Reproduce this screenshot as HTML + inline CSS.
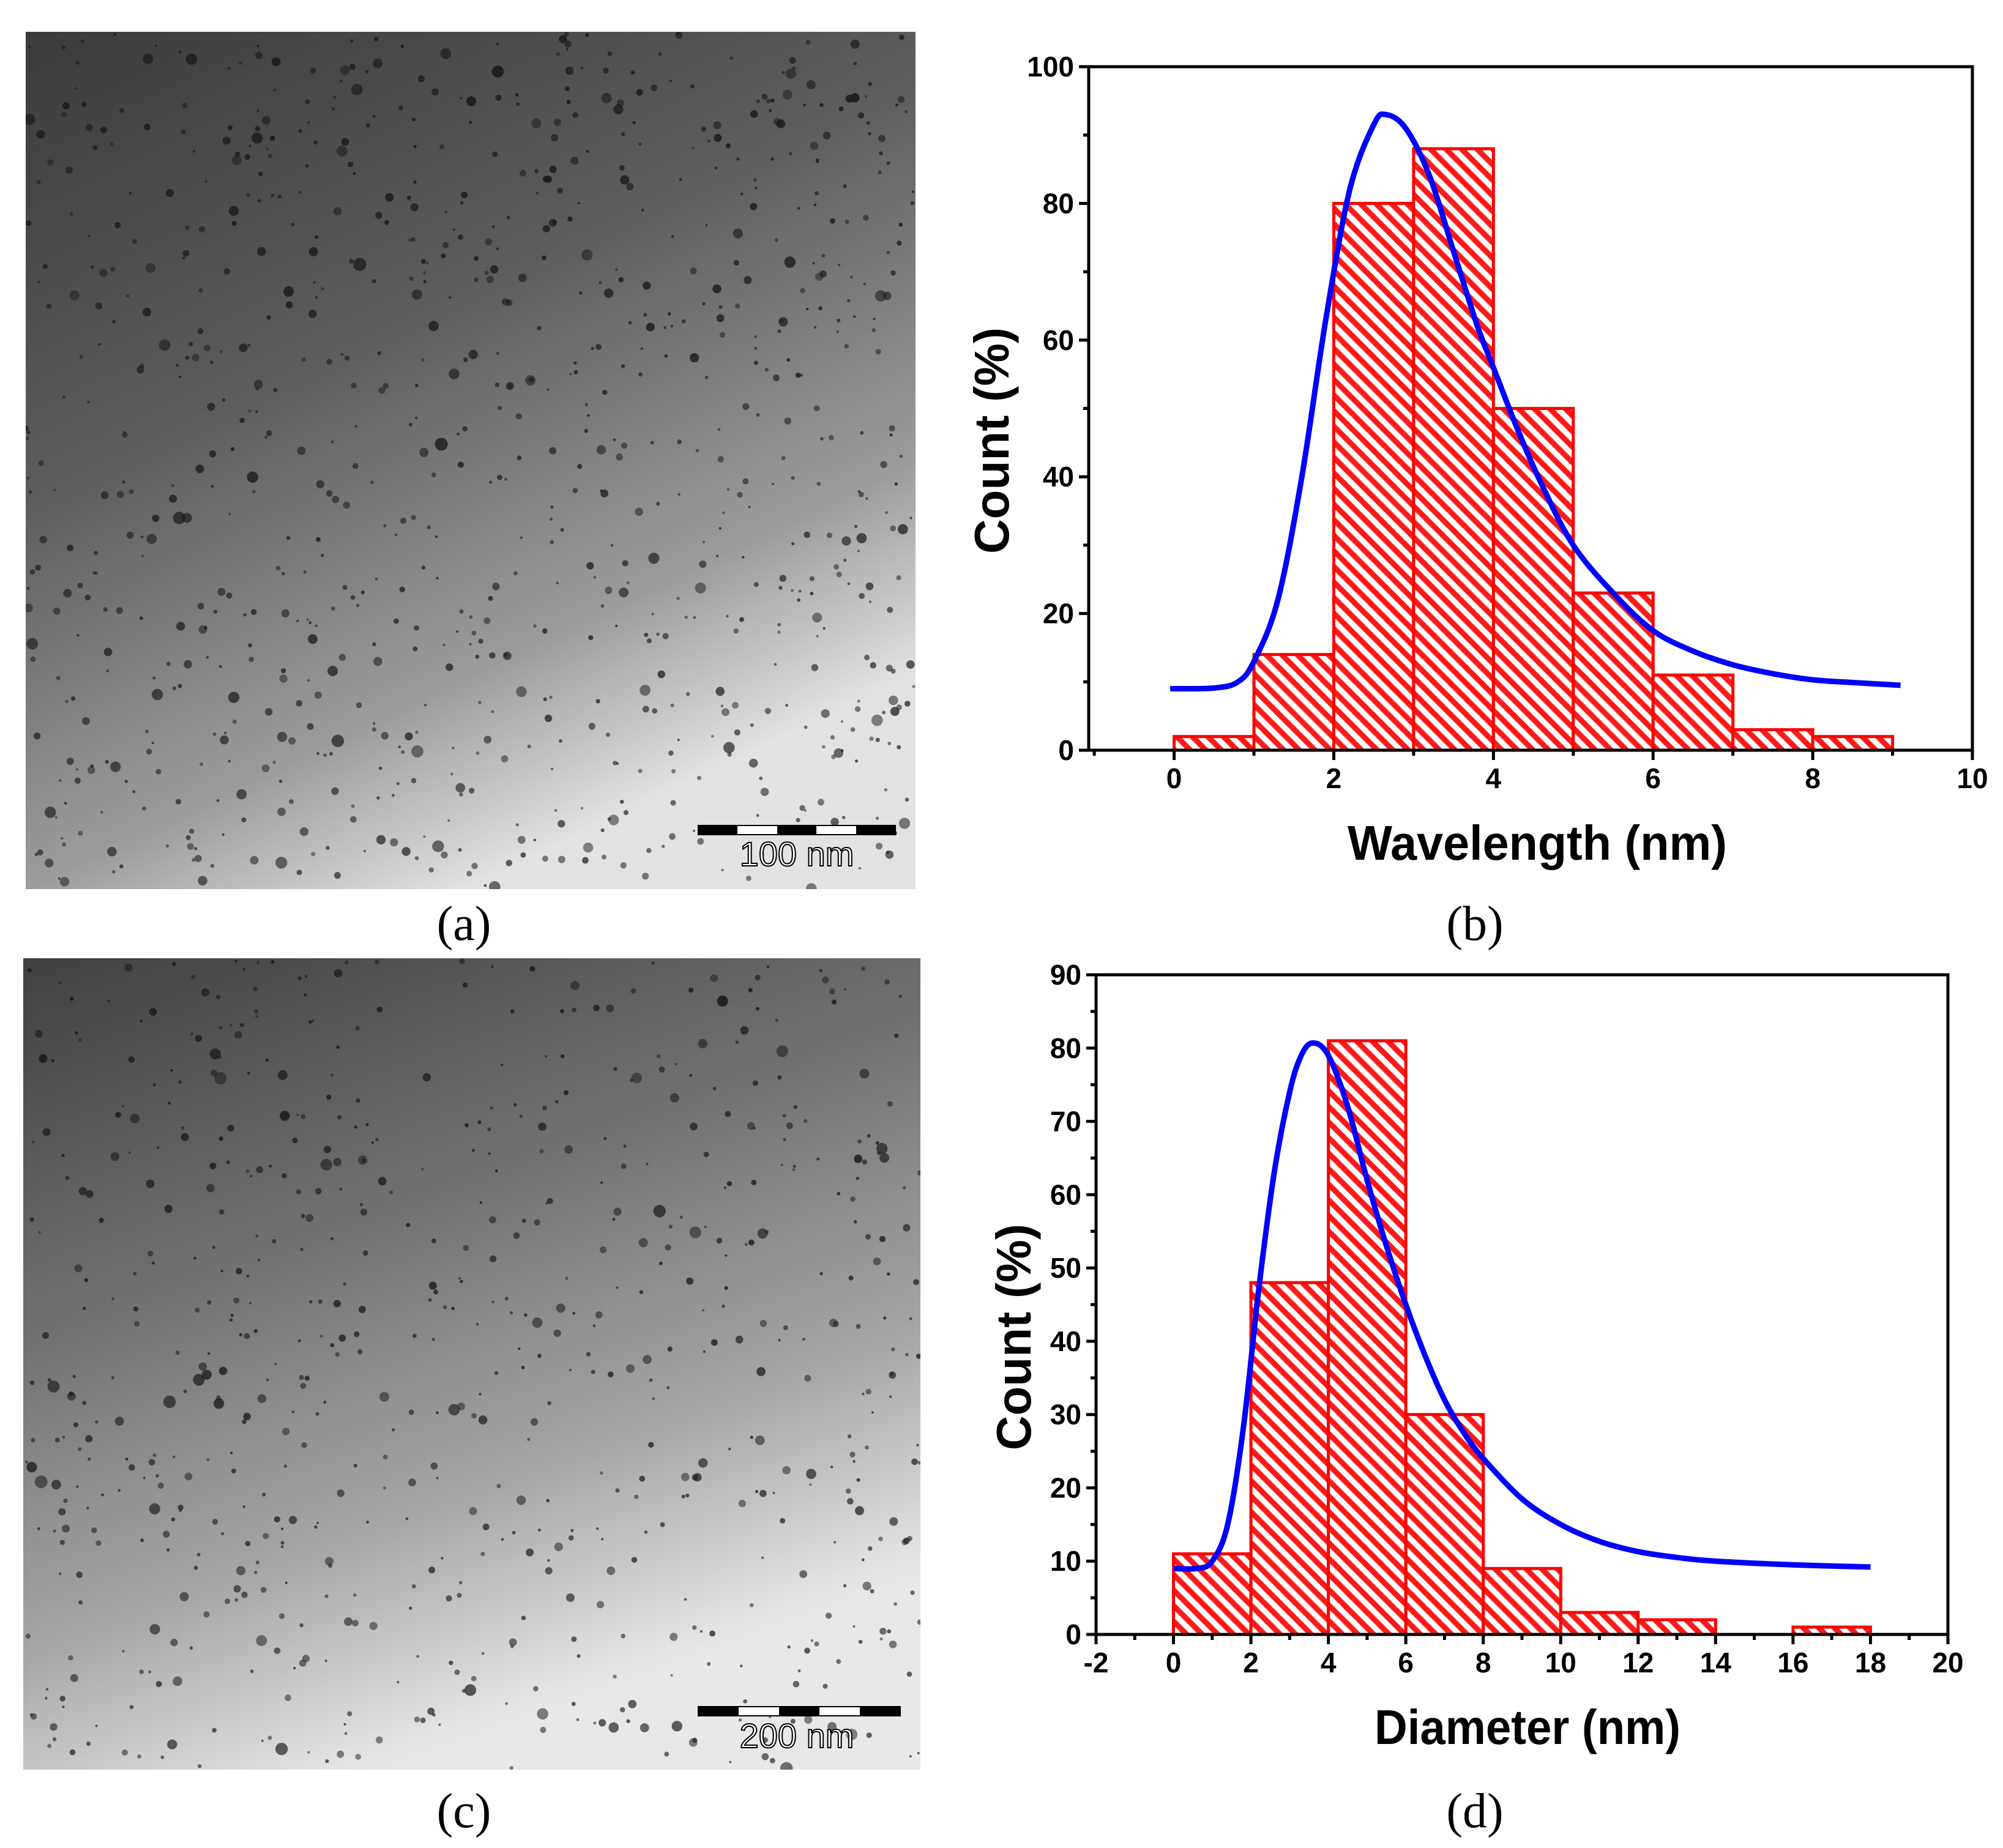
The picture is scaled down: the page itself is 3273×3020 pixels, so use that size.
<!DOCTYPE html>
<html><head><meta charset="utf-8"><style>
html,body{margin:0;padding:0;background:#fff;}
svg{display:block;}
.tick{font-family:"Liberation Sans Narrow","Liberation Sans",sans-serif;font-weight:bold;font-size:46px;fill:#000;}
.title{font-family:"Liberation Sans",sans-serif;font-weight:bold;font-size:80px;fill:#000;}
.panel{font-family:"Liberation Serif",serif;font-size:80px;fill:#000;}
</style></head><body>
<svg id="fig" width="3273" height="3020" viewBox="0 0 3273 3020" xmlns="http://www.w3.org/2000/svg">
<defs>
<linearGradient id="gradA" x1="0" y1="0" x2="0.5" y2="1">
<stop offset="0" stop-color="#3a3a3a"/><stop offset="0.45" stop-color="#5e5e5e"/><stop offset="0.8" stop-color="#9c9c9c"/><stop offset="1" stop-color="#e2e2e2"/>
</linearGradient>
<linearGradient id="gradC" x1="0" y1="0" x2="0.4" y2="1">
<stop offset="0" stop-color="#404040"/><stop offset="0.4" stop-color="#707070"/><stop offset="0.75" stop-color="#a8a8a8"/><stop offset="1" stop-color="#e8e8e8"/>
</linearGradient>
<clipPath id="clipA"><rect x="42" y="52" width="1454" height="1401"/></clipPath>
<clipPath id="clipC"><rect x="38" y="1566" width="1466" height="1326"/></clipPath>
<pattern id="hatch" patternUnits="userSpaceOnUse" width="18" height="18" patternTransform="rotate(-45)">
<rect width="18" height="18" fill="#fff"/><rect x="0" y="0" width="9" height="18" fill="#ff1a1a"/>
</pattern>
</defs>
<g id="imgA" clip-path="url(#clipA)">
<rect x="42" y="52" width="1454" height="1401" fill="url(#gradA)"/>
</g>
<g id="imgC" clip-path="url(#clipC)">
<rect x="38" y="1566" width="1466" height="1326" fill="url(#gradC)"/>
</g>
<g>
<rect x="1141" y="1349" width="322" height="15" fill="#fff" stroke="#000" stroke-width="2"/>
<rect x="1141" y="1349" width="64" height="15" fill="#000"/><rect x="1270" y="1349" width="64" height="15" fill="#000"/><rect x="1399" y="1349" width="64" height="15" fill="#000"/>
<text x="1302" y="1415" text-anchor="middle" font-family="Liberation Sans Narrow,Liberation Sans,sans-serif" font-size="56" fill="#fff" stroke="#000" stroke-width="2">100 nm</text>
</g>
<g>
<rect x="1141" y="2789" width="330" height="15" fill="#fff" stroke="#000" stroke-width="2"/>
<rect x="1141" y="2789" width="66" height="15" fill="#000"/><rect x="1273" y="2789" width="66" height="15" fill="#000"/><rect x="1405" y="2789" width="66" height="15" fill="#000"/>
<text x="1302" y="2856" text-anchor="middle" font-family="Liberation Sans Narrow,Liberation Sans,sans-serif" font-size="56" fill="#fff" stroke="#000" stroke-width="2">200 nm</text>
</g>
<text class="panel" x="758" y="1536" text-anchor="middle">(a)</text>
<text class="panel" x="2410" y="1536" text-anchor="middle">(b)</text>
<text class="panel" x="758" y="2986" text-anchor="middle">(c)</text>
<text class="panel" x="2410" y="2986" text-anchor="middle">(d)</text>
<g id="chartB"></g>
<g id="chartD"></g>
</svg>
<script>
// Chart (b) data
const bBinStarts = [0,1,2,3,4,5,6,7,8];
const bBinWidth = 1;
const bCounts = [2,14,80,88,50,23,11,3,2];
const bFitX = [-0.05,0.5,0.8,1,1.3,1.6,1.9,2.2,2.5,2.65,2.9,3.2,3.5,3.8,4,4.3,4.6,5,5.5,6,6.5,7,7.5,8,8.5,9.1];
const bFitY = [9,9.1,10,13,22,40,63,82,91.5,93,91,84,73,62,56,47,39,30,23,17.5,14.5,12.5,11.2,10.3,9.9,9.5];
const bXTicks = [0,2,4,6,8,10];
const bYTicks = [0,20,40,60,80,100];
// Chart (d) data
const dBinStarts = [0,2,4,6,8,10,12,14,16];
const dBinWidth = 2;
const dCounts = [11,48,81,30,9,3,2,0,1];
const dFitX = [0,0.6,1,1.4,1.8,2.2,2.6,3,3.3,3.6,4,4.5,5,5.5,6,6.5,7,7.5,8,9,10,11,12,13,14,16,18];
const dFitY = [9,9,10,15,28,47,63,74,79,80.7,79,72,62,53,45,38,32,27.5,24,18.5,15,12.7,11.3,10.5,10,9.5,9.2];
const dXTicks = [-2,0,2,4,6,8,10,12,14,16,18,20];
const dYTicks = [0,10,20,30,40,50,60,70,80,90];

const NS='http://www.w3.org/2000/svg';
function mk(tag,attrs,parent){const e=document.createElementNS(NS,tag);for(const k in attrs)e.setAttribute(k,attrs[k]);parent.appendChild(e);return e;}
function smooth(pts){let d='M'+pts[0][0].toFixed(1)+','+pts[0][1].toFixed(1);
  for(let i=0;i<pts.length-1;i++){const p0=pts[Math.max(0,i-1)],p1=pts[i],p2=pts[i+1],p3=pts[Math.min(pts.length-1,i+2)];
    const c1x=p1[0]+(p2[0]-p0[0])/6,c1y=p1[1]+(p2[1]-p0[1])/6,c2x=p2[0]-(p3[0]-p1[0])/6,c2y=p2[1]-(p3[1]-p1[1])/6;
    d+='C'+c1x.toFixed(1)+','+c1y.toFixed(1)+' '+c2x.toFixed(1)+','+c2y.toFixed(1)+' '+p2[0].toFixed(1)+','+p2[1].toFixed(1);}
  return d;}

function drawChart(g,cfg){
  const sx=v=>cfg.L+(v-cfg.x0)/(cfg.x1-cfg.x0)*(cfg.R-cfg.L);
  const sy=v=>cfg.B-(v-cfg.y0)/(cfg.y1-cfg.y0)*(cfg.B-cfg.T);
  cfg.starts.forEach((s,i)=>{
    if(cfg.counts[i]<=0)return;
    const r=mk('rect',{x:sx(s),y:sy(cfg.counts[i]),width:sx(s+cfg.w)-sx(s),height:sy(0)-sy(cfg.counts[i]),fill:'url(#hatch)',stroke:'#ff0000','stroke-width':5},g);
    
    
  });
  const pts=cfg.fx.map((x,i)=>[sx(x),sy(cfg.fy[i])]);
  const p=mk('path',{d:smooth(pts),fill:'none',stroke:'#0000ff','stroke-width':9,'stroke-linejoin':'round'},g);
  
  
  const fr=mk('rect',{x:cfg.L,y:cfg.T,width:cfg.R-cfg.L,height:cfg.B-cfg.T,fill:'none',stroke:'#000','stroke-width':5},g);
  
  
  cfg.xt.forEach((v,i)=>{
    mk('line',{x1:sx(v),x2:sx(v),y1:cfg.B,y2:cfg.B+16,stroke:'#000','stroke-width':5},g);
    if(i<cfg.xt.length-1){const m=(v+cfg.xt[i+1])/2;mk('line',{x1:sx(m),x2:sx(m),y1:cfg.B,y2:cfg.B+9,stroke:'#000','stroke-width':5},g);}
    const t=mk('text',{x:sx(v),y:cfg.B+62,'text-anchor':'middle',class:'tick'},g);t.textContent=v;
    
    
  });
  if(cfg.x0<cfg.xt[0]){const m=cfg.xt[0]-(cfg.xt[1]-cfg.xt[0])/2;if(m>cfg.x0)mk('line',{x1:sx(m),x2:sx(m),y1:cfg.B,y2:cfg.B+9,stroke:'#000','stroke-width':5},g);}
  cfg.yt.forEach((v,i)=>{
    mk('line',{x1:cfg.L-16,x2:cfg.L,y1:sy(v),y2:sy(v),stroke:'#000','stroke-width':5},g);
    if(i<cfg.yt.length-1){const m=(v+cfg.yt[i+1])/2;mk('line',{x1:cfg.L-9,x2:cfg.L,y1:sy(m),y2:sy(m),stroke:'#000','stroke-width':5},g);}
    const t=mk('text',{x:cfg.L-24,y:sy(v)+16,'text-anchor':'end',class:'tick'},g);t.textContent=v;
    
    
  });
  const xt=mk('text',{x:cfg.xtX,y:cfg.B+179,'text-anchor':'middle',class:'title',textLength:cfg.xtLen,lengthAdjust:'spacingAndGlyphs'},g);xt.textContent=cfg.xTitle;
  
  
  const yt=mk('text',{x:0,y:0,'text-anchor':'middle',class:'title',transform:'translate('+cfg.ytX+','+cfg.ytY+') rotate(-90)',textLength:370,lengthAdjust:'spacingAndGlyphs'},g);yt.textContent='Count (%)';
  
  
}
drawChart(document.getElementById('chartB'),{L:1779,R:3223,T:109,B:1226,x0:-1.07,x1:10,y0:0,y1:100,starts:bBinStarts,w:bBinWidth,counts:bCounts,fx:bFitX,fy:bFitY,xt:bXTicks,yt:bYTicks,xTitle:'Wavelength (nm)',xtX:2512,xtLen:620,ytX:1648,ytY:720});
drawChart(document.getElementById('chartD'),{L:1791,R:3183,T:1593,B:2671,x0:-2,x1:20,y0:0,y1:90,starts:dBinStarts,w:dBinWidth,counts:dCounts,fx:dFitX,fy:dFitY,xt:dXTicks,yt:dYTicks,xTitle:'Diameter (nm)',xtX:2496,xtLen:500,ytX:1684,ytY:2185});

// decorative nanoparticle speckles on TEM images (not chart data)
let seed=12345;function rnd(){seed=(seed*1103515245+12345)%2147483648;return seed/2147483648;}
function speckle(id,x,y,w,h,n){const g=document.getElementById(id);
  for(let i=0;i<n;i++){const cx=x+rnd()*w,cy=y+rnd()*h;const r=2+rnd()*rnd()*9;
    mk('circle',{cx:cx,cy:cy,r:r,fill:'#1a1a1a','fill-opacity':(0.5+0.4*rnd()*(1-0.5*(cy-y)/h)).toFixed(2)},g);}
}
speckle('imgA',42,52,1454,1401,900);
speckle('imgC',38,1566,1466,1326,700);
</script>
</body></html>
